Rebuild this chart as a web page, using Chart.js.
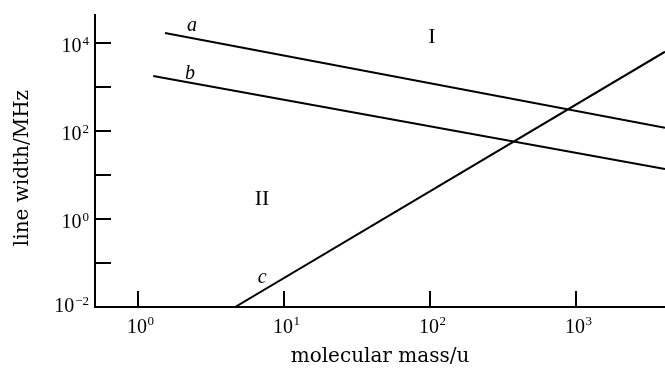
<!DOCTYPE html>
<html>
<head>
<meta charset="utf-8">
<script src="https://cdn.jsdelivr.net/npm/chart.js@4/dist/chart.umd.min.js"></script>
<style>
html,body{margin:0;padding:0;background:#fff;}
#wrap{width:665px;height:374px;position:relative;}
</style>
</head>
<body>
<div id="wrap"><canvas id="c"></canvas></div>
<script>
// ---- data ----
const lineA_x = [1.53, 4070];
const lineA_y = [16900, 119];
const lineB_x = [1.27, 4070];
const lineB_y = [1780, 13.7];
const lineC_x = [4.62, 4070];
const lineC_y = [0.01, 6340];

const xTickValues = [1, 10, 100, 1000];
const xTickExponents = ['0', '1', '2', '3'];
const yTickValues = [0.01, 0.1, 1, 10, 100, 1000, 10000];
const yTickExponents = ['\u22122', '', '0', '', '2', '', '4'];

const xTitle = 'molecular mass/u';
const yTitle = 'line width/MHz';

const annotTexts = ['a', 'b', 'c', 'I', 'II'];
const annotX = [2.34, 2.27, 7.07, 103, 7.07];
const annotY = [25000, 1950, 0.046, 13700, 2.85];
const annotItalic = [true, true, true, false, false];

const xMin = 0.507, xMax = 4070;
const yMin = 0.01, yMax = 43300;

function pts(xs, ys){ return xs.map((x,i)=>({x:x, y:ys[i]})); }

const BASE_FONT = '20px "Liberation Serif"';
const EXP_FONT = '13px "Liberation Serif"';

const axisDecor = {
  id:'axisDecor',
  afterDatasetsDraw(chart){
    const ctx = chart.ctx, xs = chart.scales.x, ys = chart.scales.y;
    const ca = chart.chartArea;
    ctx.save();
    ctx.strokeStyle = '#000';
    ctx.lineWidth = 2;
    ctx.beginPath();
    xTickValues.forEach(v=>{
      const px = Math.round(xs.getPixelForValue(v));
      ctx.moveTo(px, ca.bottom);
      ctx.lineTo(px, ca.bottom - 16);
    });
    yTickValues.forEach(v=>{
      const py = Math.round(ys.getPixelForValue(v));
      ctx.moveTo(ca.left, py);
      ctx.lineTo(ca.left + 16, py);
    });
    ctx.stroke();

    ctx.fillStyle = '#000';
    ctx.textBaseline = 'alphabetic';
    // x tick labels: "10" centred on the tick, exponent raised after it
    xTickValues.forEach((v,i)=>{
      const px = xs.getPixelForValue(v);
      const base = ca.bottom + 26;
      ctx.font = BASE_FONT;
      ctx.textAlign = 'center';
      const w = ctx.measureText('10').width;
      ctx.fillText('10', px - 1, base);
      ctx.font = EXP_FONT;
      ctx.textAlign = 'left';
      ctx.fillText(xTickExponents[i], px - 1 + w/2 + 0.5, base - 8);
    });
    // y tick labels: right aligned before the axis
    yTickValues.forEach((v,i)=>{
      const e = yTickExponents[i];
      if(!e) return;
      const py = ys.getPixelForValue(v);
      const right = ca.left - 6;
      ctx.font = EXP_FONT;
      ctx.textAlign = 'right';
      const ew = ctx.measureText(e).width;
      const base = (i === 0) ? py + 5 : py + 9;
      ctx.fillText(e, right, base - 7);
      ctx.font = BASE_FONT;
      ctx.fillText('10', right - ew - 1, base);
    });

    // y axis title
    ctx.save();
    ctx.font = '20px "DejaVu Serif"';
    ctx.textAlign = 'center';
    ctx.textBaseline = 'middle';
    ctx.translate(23, (ca.top + ca.bottom) / 2 + 7);
    ctx.rotate(-Math.PI / 2);
    ctx.fillText(yTitle, 0, 0);
    ctx.restore();

    // annotations
    ctx.textAlign = 'center';
    ctx.textBaseline = 'middle';
    annotTexts.forEach((t,i)=>{
      ctx.font = annotItalic[i] ? 'italic 20px "Liberation Serif"' : '22px "Liberation Serif"';
      ctx.fillText(t, xs.getPixelForValue(annotX[i]), ys.getPixelForValue(annotY[i]));
    });
    ctx.restore();
  }
};

const lineStyle = {borderColor:'#000', borderWidth:2, pointRadius:0, showLine:true, fill:false, tension:0};

new Chart(document.getElementById('c'), {
  type:'scatter',
  data:{
    datasets:[
      Object.assign({label:'a', data:pts(lineA_x, lineA_y)}, lineStyle),
      Object.assign({label:'b', data:pts(lineB_x, lineB_y)}, lineStyle),
      Object.assign({label:'c', data:pts(lineC_x, lineC_y)}, lineStyle)
    ]
  },
  options:{
    responsive:true,
    maintainAspectRatio:false,
    animation:false,
    layout:{padding:{top:15,right:0,left:0,bottom:0}},
    plugins:{legend:{display:false}, tooltip:{enabled:false}},
    scales:{
      x:{
        type:'logarithmic',
        min:xMin, max:xMax,
        afterBuildTicks(scale){ scale.ticks = xTickValues.map(v=>({value:v})); },
        afterFit(scale){ scale.height = 67; },
        grid:{display:false, drawTicks:false},
        border:{display:true, color:'#000', width:2},
        ticks:{display:false},
        title:{display:true, text:xTitle, color:'#000',
          font:{family:'"DejaVu Serif"', size:20}, padding:{top:4,bottom:5}}
      },
      y:{
        type:'logarithmic',
        min:yMin, max:yMax,
        afterBuildTicks(scale){ scale.ticks = yTickValues.map(v=>({value:v})); },
        afterFit(scale){ scale.width = 95; },
        grid:{display:false, drawTicks:false},
        border:{display:true, color:'#000', width:2},
        ticks:{display:false},
        title:{display:false}
      }
    }
  },
  plugins:[axisDecor]
});
</script>
</body>
</html>
